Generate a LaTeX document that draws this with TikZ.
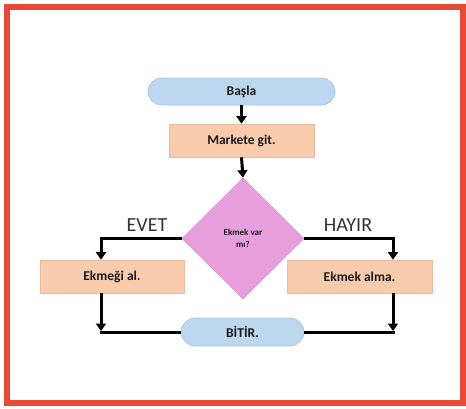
\documentclass[tikz,border=0pt]{standalone}
\usepackage{fontspec}
\setmainfont{Carlito}
\usetikzlibrary{arrows.meta,shapes.geometric,shapes.misc}
\definecolor{framered}{HTML}{E84A33}
\definecolor{termfill}{HTML}{BDD7EE}
\definecolor{termline}{HTML}{A4C3E2}
\definecolor{procfill}{HTML}{F8CBAD}
\definecolor{procline}{HTML}{E9BCA0}
\definecolor{decfill}{HTML}{E69FDC}
\definecolor{decline}{HTML}{D993CF}
\definecolor{txt}{HTML}{1A1A1A}
\tikzset{
  term/.style={rounded rectangle, fill=termfill, draw=termline, line width=0.6pt,
    inner sep=0pt, font=\bfseries\fontsize{13.5}{14}\selectfont, text=txt},
  proc/.style={rectangle, fill=procfill, draw=procline, line width=0.6pt,
    inner sep=0pt, minimum height=33pt, font=\bfseries\fontsize{13.5}{14}\selectfont, text=txt},
  decbox/.style={diamond, fill=decfill, draw=decline, line width=0.6pt, inner sep=0pt,
    minimum width=122pt, minimum height=121pt, align=center,
    font=\bfseries\fontsize{9}{12}\selectfont, text=txt},
  lbl/.style={font=\fontsize{20}{22}\selectfont, text=black!80, inner sep=0pt},
  conn/.style={line width=3pt, black},
  arr/.style={conn, -{Triangle[length=7.5pt,width=10pt]}}
}
\begin{document}
\begin{tikzpicture}[x=1pt,y=-1pt]
\useasboundingbox (0,0) rectangle (466,408);
\draw[line width=5.5pt, framered] (7,7) rectangle (463,403);

\node[term, minimum width=187pt, minimum height=27pt] (basla) at (241.5,91.5) {Başla};
\node[proc, minimum width=145pt] (market) at (241.5,140.5) {Markete git.};
\node[decbox] (dec) at (243,238.5) {Ekmek var\\mı?};
\node[lbl] (evet) at (147,225) {EVET};
\node[lbl] (hayir) at (348,225) {HAYIR};
\node[proc, minimum width=144pt] (left) at (112,276.5) {Ekmeği al.};
\node[proc, minimum width=145pt] (right) at (359.5,276.5) {Ekmek alma.};
\node[term, minimum width=123pt, minimum height=28pt] (bitir) at (242.5,332) {BİTİR.};

\coordinate (lt) at ([xshift=-11pt]left.north);
\coordinate (lb) at ([xshift=-11pt]left.south);
\coordinate (rt) at ([xshift=33.5pt]right.north);
\coordinate (rb) at ([xshift=33.5pt]right.south);
\coordinate (lc) at (lb |- bitir.west);
\coordinate (rc) at (rb |- bitir.east);

\draw[arr] (basla.south) -- (market.north);
\draw[arr] (market.south) -- (dec.north);
\draw[arr] (dec.west) -| (lt);
\draw[arr] (dec.east) -| (rt);
\draw[arr] (lb) -- ([yshift=1pt]lc);
\draw[arr] (rb) -- ([yshift=1pt]rc);
\draw[conn] (bitir.west) -- ([xshift=-1.5pt]lc);
\draw[conn] (bitir.east) -- ([xshift=1.5pt]rc);
\end{tikzpicture}
\end{document}
